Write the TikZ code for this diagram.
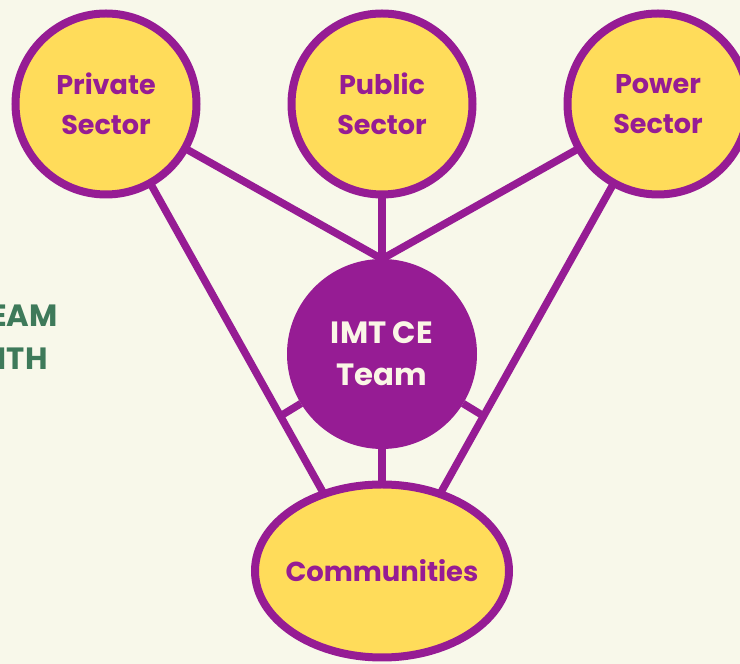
\documentclass[tikz,border=0pt]{standalone}
\usepackage{fontspec}
\setmainfont{Poppins}
\usetikzlibrary{positioning, shapes.geometric, calc}
\definecolor{PlumPurple}{RGB}{150, 28, 148}
\definecolor{SunYellow}{RGB}{255, 220, 90}
\definecolor{Cream}{RGB}{248, 248, 234}
\definecolor{LeafGreen}{RGB}{62, 122, 90}
\definecolor{OffWhite}{RGB}{250, 246, 230}

\begin{document}
\begin{tikzpicture}[
        sector/.style={circle, draw=PlumPurple, line width=0.16cm, fill=SunYellow, minimum size=3.62cm, outer sep=0pt, align=center, text=PlumPurple, font=\fontsize{15.4}{22.7}\selectfont\bfseries},
        core/.style={circle, fill=PlumPurple, minimum size=3.8cm, outer sep=0pt, align=center, text=OffWhite, font=\fontsize{17.5}{23.8}\selectfont\bfseries},
        crowd/.style={ellipse, draw=PlumPurple, line width=0.16cm, fill=SunYellow, minimum width=5.08cm, minimum height=3.46cm, inner sep=0pt, outer sep=0pt, text=PlumPurple, font=\fontsize{15.6}{20}\selectfont\bfseries},
        link/.style={draw=PlumPurple, line width=0.15cm},
        side/.style={text=LeafGreen, font=\fontsize{17.5}{20}\selectfont\bfseries, inner sep=0pt}
    ]
    \fill[Cream] (0,0) rectangle (14.8,13.28);
    \clip (0,0) rectangle (14.8,13.28);

    \node[sector] (pub) at (7.64,11.2) {Public\\Sector};
    \node[sector, left=1.9cm of pub] (priv) {Private\\Sector};
    \node[sector, right=1.9cm of pub] (pow) {Power\\Sector};
    \node[core, below=1.29cm of pub] (hub) {IMT CE\\Team};
    \node[crowd, below=0.71cm of hub] (comm) {\makebox[0pt]{Communities}};

    % cut-off heading on the left
    \node[side, anchor=base east] (eam) at (1.16,6.74) {EAM};
    \node[side, anchor=base east] (ith) at (0.96,5.88) {ITH};

    \draw[link] (priv) -- (hub.north);
    \draw[link] (pub) -- (hub);
    \draw[link] (pow) -- (hub.north);
    \draw[link] (hub) -- (comm);
    \draw[link] (priv) -- (comm.127);
    \draw[link] (pow) -- (comm.53);

    \coordinate (rungL) at ($(priv.center)!0.8!(comm.127)$);
    \coordinate (rungR) at ($(pow.center)!0.8!(comm.53)$);
    \draw[link] (rungL) -- (hub);
    \draw[link] (rungR) -- (hub);
\end{tikzpicture}
\end{document}
